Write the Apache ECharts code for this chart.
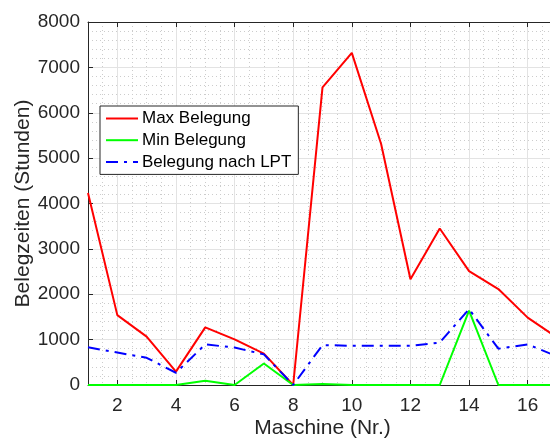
<!DOCTYPE html>
<html>
<head>
<meta charset="utf-8">
<script src="https://cdn.jsdelivr.net/npm/echarts@6/dist/echarts.min.js"></script>
<style>
  html, body { margin: 0; padding: 0; background: #ffffff; }
  #chart { width: 550px; height: 441px; }
</style>
</head>
<body>
<div id="chart"></div>
<script>
// Machine numbers and occupancy times (hours)
const machines = [1, 2, 3, 4, 5, 6, 7, 8, 9, 10, 11, 12, 13, 14, 15, 16, 17];
const maxBelegung = [4230, 1540, 1065, 295, 1270, 1005, 690, 0, 6560, 7320, 5310, 2330, 3450, 2510, 2115, 1485, 1045];
const minBelegung = [0, 0, 0, 0, 95, 0, 475, 0, 20, 0, 0, 0, 0, 1640, 0, 0, 0];
const lptBelegung = [830, 715, 600, 270, 895, 825, 675, 0, 880, 865, 865, 865, 935, 1670, 800, 895, 630];
const xTicks = [2, 4, 6, 8, 10, 12, 14, 16];

const FONT = '"Liberation Sans", Arial, Helvetica, sans-serif';
const AXIS_COLOR = '#262626';

const pairs = ys => machines.map((m, i) => [m, ys[i]]);
// legend entries: line only, no marker
const legendEntry = name => ({ name, itemStyle: { color: 'transparent', borderWidth: 0, opacity: 0 } });

const chart = echarts.init(document.getElementById('chart'), null, { renderer: 'canvas' });

chart.setOption({
  backgroundColor: '#ffffff',
  animation: false,
  textStyle: { fontFamily: FONT },
  grid: { left: 88, top: 22, width: 469, height: 363, containLabel: false, outerBoundsMode: 'none' },
  legend: {
    orient: 'vertical',
    left: 100,
    top: 106,
    padding: [4, 7, 4, 5],
    itemGap: 4.7,
    itemWidth: 32,
    itemHeight: 17,
    backgroundColor: '#ffffff',
    borderColor: AXIS_COLOR,
    borderWidth: 1,
    borderRadius: 0,
    textStyle: { fontFamily: FONT, fontSize: 17, color: '#000000', lineHeight: 17, padding: [0, 0, 0, -1] },
    data: ['Max Belegung', 'Min Belegung', 'Belegung nach LPT'].map(legendEntry)
  },
  xAxis: [
    {
      type: 'value',
      position: 'bottom',
      min: 1,
      max: 17,
      name: 'Maschine (Nr.)',
      nameLocation: 'middle',
      nameGap: 33,
      nameMoveOverlap: false,
      nameTextStyle: { fontFamily: FONT, fontSize: 21, color: AXIS_COLOR },
      axisLine: { show: true, onZero: false, lineStyle: { color: AXIS_COLOR, width: 1 } },
      axisTick: { show: true, inside: true, length: 5, customValues: xTicks, lineStyle: { color: AXIS_COLOR } },
      axisLabel: { show: true, customValues: xTicks, margin: 11, fontFamily: FONT, fontSize: 19, color: AXIS_COLOR },
      splitLine: { show: true, lineStyle: { color: '#e3e3e3', width: 1 } },
      z: 3
    },
    {
      type: 'value',
      position: 'top',
      min: 1,
      max: 17,
      axisLine: { show: true, onZero: false, lineStyle: { color: AXIS_COLOR, width: 1 } },
      axisTick: { show: true, inside: true, length: 5, customValues: xTicks, lineStyle: { color: AXIS_COLOR } },
      axisLabel: { show: false },
      splitLine: { show: false },
      z: 3
    },
    {
      // minor vertical grid every 0.5
      type: 'value',
      position: 'bottom',
      min: 1,
      max: 17,
      interval: 0.5,
      axisLine: { show: false },
      axisTick: { show: false },
      axisLabel: { show: false },
      splitLine: { show: true, lineStyle: { color: '#cccccc', width: 1, type: [1, 3] } },
      z: 1
    }
  ],
  yAxis: [
    {
      type: 'value',
      position: 'left',
      min: 0,
      max: 8000,
      interval: 1000,
      name: 'Belegzeiten (Stunden)',
      nameLocation: 'middle',
      nameGap: 54,
      nameMoveOverlap: false,
      nameTextStyle: { fontFamily: FONT, fontSize: 21, color: AXIS_COLOR },
      axisLine: { show: true, onZero: false, lineStyle: { color: AXIS_COLOR, width: 1 } },
      axisTick: { show: true, inside: true, length: 5, lineStyle: { color: AXIS_COLOR } },
      axisLabel: { show: true, margin: 8, fontFamily: FONT, fontSize: 19, color: AXIS_COLOR, formatter: v => String(v) },
      splitLine: { show: true, lineStyle: { color: '#e3e3e3', width: 1 } },
      minorTick: { show: false, splitNumber: 5 },
      minorSplitLine: { show: true, lineStyle: { color: '#cccccc', width: 1, type: [1, 3] } },
      z: 3
    }
  ],
  series: [
    {
      name: 'Max Belegung',
      type: 'line',
      xAxisIndex: 0,
      yAxisIndex: 0,
      data: pairs(maxBelegung),
      showSymbol: false,
      symbol: 'none',
      color: '#ff0000',
      lineStyle: { color: '#ff0000', width: 2 },
      z: 5
    },
    {
      name: 'Min Belegung',
      type: 'line',
      xAxisIndex: 0,
      yAxisIndex: 0,
      data: pairs(minBelegung),
      showSymbol: false,
      symbol: 'none',
      color: '#00ff00',
      lineStyle: { color: '#00ff00', width: 2 },
      z: 5
    },
    {
      name: 'Belegung nach LPT',
      type: 'line',
      xAxisIndex: 0,
      yAxisIndex: 0,
      data: pairs(lptBelegung),
      showSymbol: false,
      symbol: 'none',
      color: '#0000ff',
      lineStyle: { color: '#0000ff', width: 2, type: [12, 6, 3, 6] },
      z: 6
    }
  ]
});
</script>
</body>
</html>
